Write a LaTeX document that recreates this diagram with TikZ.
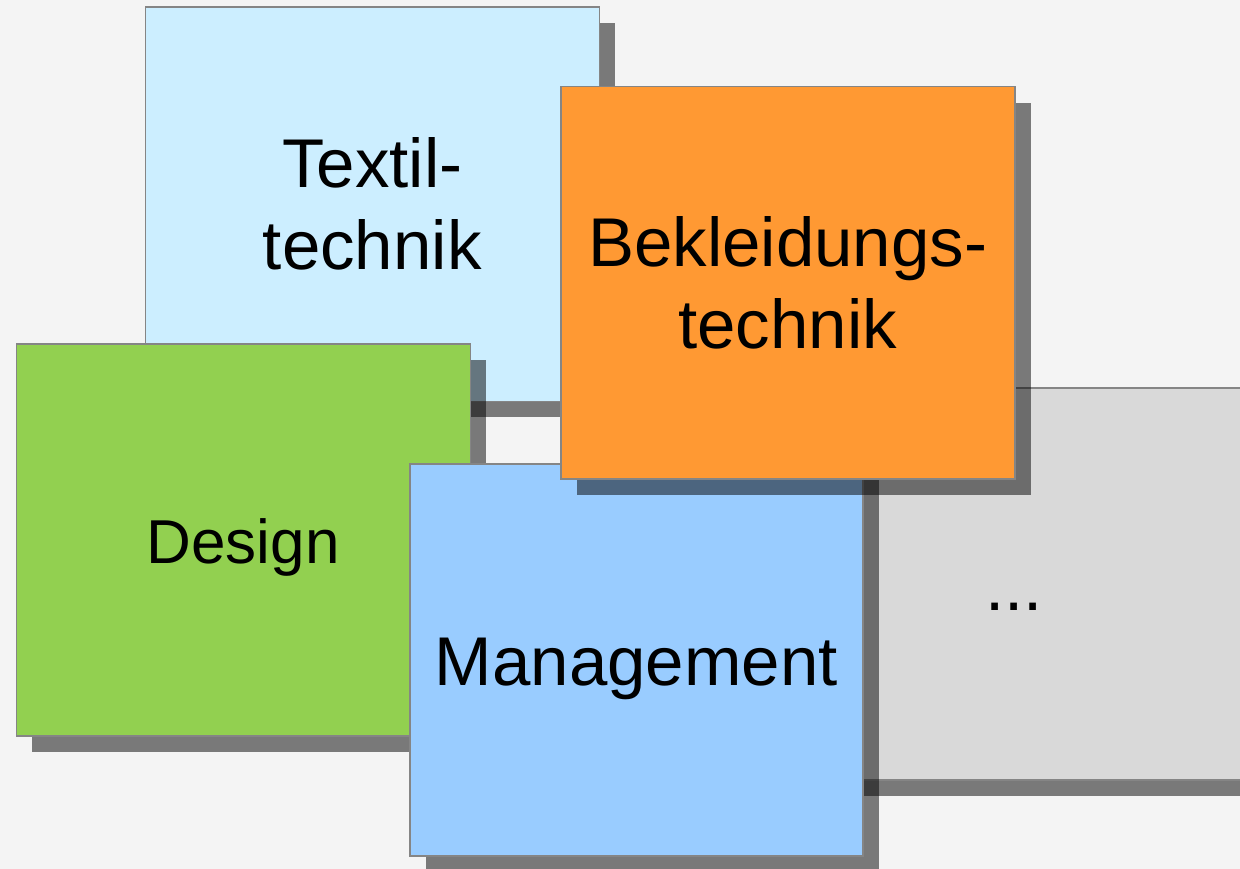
\documentclass[tikz,border=0pt]{standalone}
\usepackage{fontspec}
\setmainfont{Liberation Sans}
\usetikzlibrary{shadows}
\definecolor{bg}{HTML}{F4F4F4}
\definecolor{cTextil}{HTML}{CCEEFF}
\definecolor{cBekl}{HTML}{FF9933}
\definecolor{cDesign}{HTML}{92D050}
\definecolor{cMgmt}{HTML}{99CCFF}
\definecolor{cGray}{HTML}{D9D9D9}
\definecolor{cBorder}{HTML}{858585}
\tikzset{
  tile/.style={draw=cBorder, line width=1.5pt, rectangle, anchor=north west,
    inner sep=0pt, align=center, font=\fontsize{69}{82}\selectfont,
    drop shadow={shadow xshift=16pt, shadow yshift=-16pt, opacity=0.5, fill=black}},
  oneline/.style={text height=#1, text depth=0pt},
}
\begin{document}
\begin{tikzpicture}[x=1pt,y=-1pt]
\fill[bg] (0,0) rectangle (1240,869);
\useasboundingbox (0,0) rectangle (1240,869);
\node[tile, fill=cTextil, minimum width=454pt, minimum height=394pt] (textil) at (144.5,6.5) {Textil-\\technik};
\node[tile, fill=cDesign, minimum width=454pt, minimum height=392pt, font=\fontsize{62}{74}\selectfont, oneline=48pt] (design) at (15.5,343) {Design};
\node[tile, fill=cGray, minimum width=453pt, minimum height=392pt, oneline=54pt] (more) at (786.5,387) {...};
\node[tile, fill=cMgmt, minimum width=453pt, minimum height=392pt, oneline=52pt] (mgmt) at (409,463) {Management};
\node[tile, fill=cBekl, minimum width=454pt, minimum height=392pt] (bekl) at (560,86) {Bekleidungs-\\technik};
\end{tikzpicture}
\end{document}
